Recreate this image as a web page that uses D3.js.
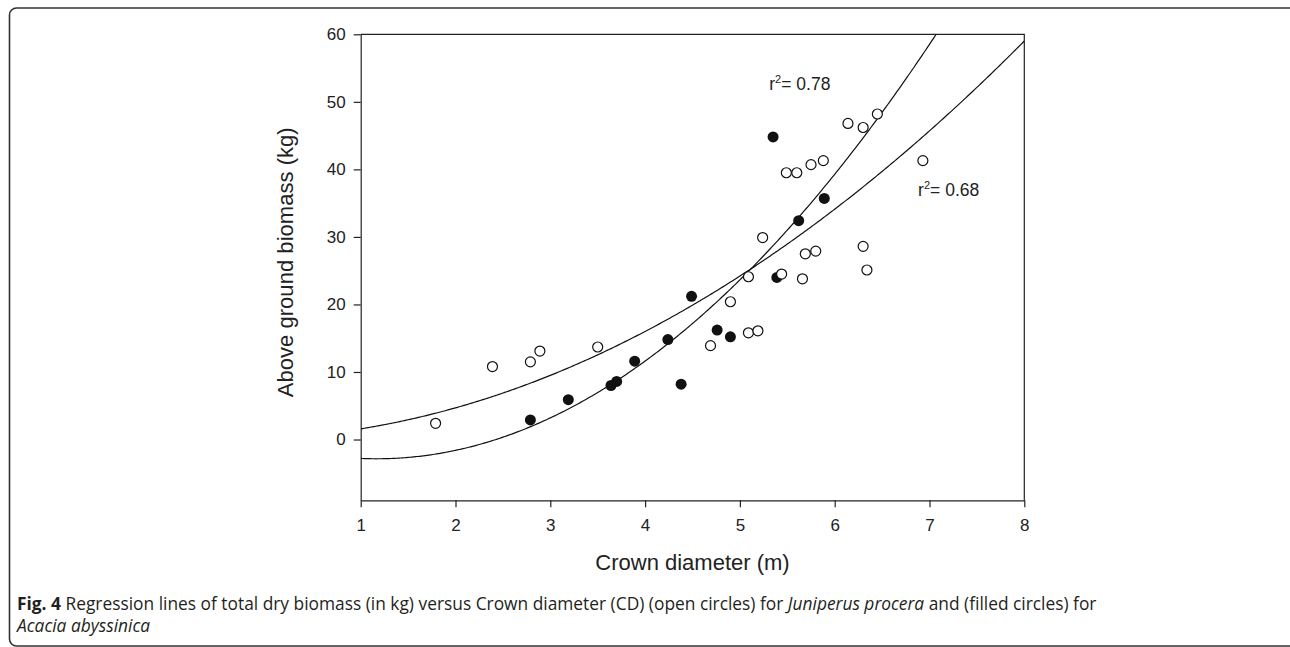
<!DOCTYPE html>
<html>
<head>
<meta charset="utf-8">
<script src="https://cdn.jsdelivr.net/npm/d3@7"></script>
<style>
  body { margin: 0; background: #fff; }
  svg { display: block; }
  .axis text { font-family: "Liberation Sans", Arial, sans-serif; font-size: 17px; fill: #222; }
  .axis path, .axis line { stroke: #222; stroke-width: 1.2; }
  .label { font-family: "Liberation Sans", Arial, sans-serif; font-size: 22px; fill: #222; }
  .rsq { font-family: "Liberation Sans", Arial, sans-serif; font-size: 17.5px; fill: #222; }
  .caption { font-family: "Open Sans", sans-serif; font-size: 17.35px; fill: #231f20; }
</style>
</head>
<body>
<script>
// Juniperus procera (open circles)
const juniperusCD = [1.79, 2.39, 2.79, 2.89, 3.50, 4.69, 4.90, 5.09, 5.19, 5.09, 5.44, 5.66, 5.69, 5.80, 5.24,
    5.49, 5.60, 5.75, 5.88, 6.14, 6.30, 6.45, 6.93, 6.30, 6.34];
const juniperusBiomass = [2.4, 10.8, 11.5, 13.1, 13.7, 13.9, 20.4, 15.8, 16.1, 24.1, 24.5, 23.8, 27.5, 27.9, 29.9,
    39.5, 39.5, 40.7, 41.3, 46.8, 46.2, 48.2, 41.3, 28.6, 25.1];

// Acacia abyssinica (filled circles)
const acaciaCD = [2.79, 3.19, 3.64, 3.70, 3.89, 4.24, 4.38, 4.49, 4.76, 4.90, 5.35, 5.39, 5.62, 5.89];
const acaciaBiomass = [2.9, 5.9, 8.0, 8.6, 11.6, 14.8, 8.2, 21.2, 16.2, 15.2, 44.8, 24.0, 32.4, 35.7];

// quadratic regression coefficients (a + b*x + c*x^2)
const steepCoef = [-0.385, -4.22, 1.805];
const shallowCoef = [0.169, 0.562, 0.849];
const rsqLabels = ['0.78', '0.68'];

const xTicks = [1, 2, 3, 4, 5, 6, 7, 8];
const yTicks = [0, 10, 20, 30, 40, 50, 60];

const W = 1290, H = 647;
const margin = { top: 34.3, right: 265.7, bottom: 146.7, left: 360.7 };
const width = W - margin.left - margin.right;
const height = H - margin.top - margin.bottom;

const root = d3.select('body').append('svg')
    .attr('width', W)
    .attr('height', H);

// figure frame with rounded corners
root.append('rect')
    .attr('x', 9.5).attr('y', 8)
    .attr('width', 1300).attr('height', 638)
    .attr('rx', 7)
    .attr('fill', 'none')
    .attr('stroke', '#333')
    .attr('stroke-width', 1.6);

const svg = root.append('g')
    .attr('transform', `translate(${margin.left},${margin.top})`);

const x = d3.scaleLinear().domain([1, 8]).range([0, width]);
const y = d3.scaleLinear().domain([-9, 60]).range([height, 0]);

svg.append('clipPath').attr('id', 'plot-clip')
    .append('rect').attr('width', width).attr('height', height);

// box: top and right edges
svg.append('path')
    .attr('d', `M0,0H${width}V${height}`)
    .attr('fill', 'none')
    .attr('stroke', '#222')
    .attr('stroke-width', 1.2);

svg.append('g')
    .attr('class', 'axis')
    .attr('transform', `translate(0,${height})`)
    .call(d3.axisBottom(x).tickValues(xTicks).tickFormat(d3.format('d'))
        .tickSize(7).tickSizeOuter(0).tickPadding(12));

svg.append('g')
    .attr('class', 'axis')
    .call(d3.axisLeft(y).tickValues(yTicks).tickFormat(d3.format('d'))
        .tickSize(7).tickSizeOuter(0).tickPadding(8));

// regression curves
const curveX = d3.range(1, 8.001, 0.02);
const line = d3.line().x(d => x(d[0])).y(d => y(d[1]));
[steepCoef, shallowCoef].forEach(c => {
    svg.append('path')
        .datum(curveX.map(v => [v, c[0] + c[1] * v + c[2] * v * v]))
        .attr('clip-path', 'url(#plot-clip)')
        .attr('d', line)
        .attr('fill', 'none')
        .attr('stroke', '#111')
        .attr('stroke-width', 1.2);
});

// points
svg.selectAll('.acacia')
    .data(acaciaCD.map((v, i) => [v, acaciaBiomass[i]]))
    .enter().append('circle')
    .attr('class', 'acacia')
    .attr('cx', d => x(d[0]))
    .attr('cy', d => y(d[1]))
    .attr('r', 5.5)
    .attr('fill', '#111');

svg.selectAll('.juniperus')
    .data(juniperusCD.map((v, i) => [v, juniperusBiomass[i]]))
    .enter().append('circle')
    .attr('class', 'juniperus')
    .attr('cx', d => x(d[0]))
    .attr('cy', d => y(d[1]))
    .attr('r', 5)
    .attr('fill', '#fff')
    .attr('stroke', '#111')
    .attr('stroke-width', 1.2);

// r² labels
const rsqPos = [[5.31, 51.75], [6.88, 36.0]];
rsqLabels.forEach((s, i) => {
    const t = svg.append('text').attr('class', 'rsq')
        .attr('x', x(rsqPos[i][0]))
        .attr('y', y(rsqPos[i][1]));
    t.append('tspan').text('r');
    t.append('tspan').attr('dy', -7).attr('font-size', 11).text('2');
    t.append('tspan').attr('dy', 7).text('= ' + s);
});

// axis labels
svg.append('text').attr('class', 'label')
    .attr('text-anchor', 'middle')
    .attr('x', width / 2)
    .attr('y', height + 70)
    .text('Crown diameter (m)');

svg.append('text').attr('class', 'label')
    .attr('text-anchor', 'middle')
    .attr('transform', `translate(${-68},${height / 2 - 5}) rotate(-90)`)
    .attr('textLength', 270)
    .attr('lengthAdjust', 'spacing')
    .text('Above ground biomass (kg)');

// caption
const cap1 = root.append('text').attr('class', 'caption').attr('x', 17).attr('y', 610);
cap1.append('tspan').attr('font-weight', 'bold').text('Fig. 4');
cap1.append('tspan').text(' Regression lines of total dry biomass (in kg) versus Crown diameter (CD) (open circles) for ');
cap1.append('tspan').attr('font-style', 'italic').text('Juniperus procera');
cap1.append('tspan').text(' and (filled circles) for');

root.append('text').attr('class', 'caption').attr('x', 17).attr('y', 632)
    .attr('font-style', 'italic')
    .text('Acacia abyssinica');
</script>
</body>
</html>
